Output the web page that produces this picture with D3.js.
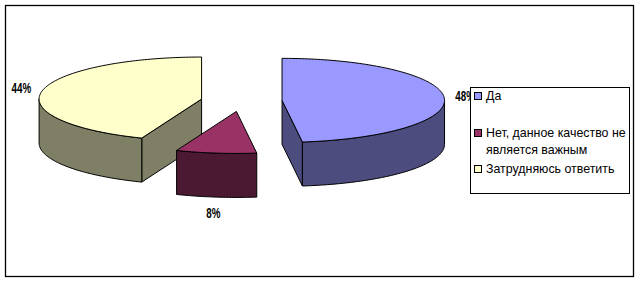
<!DOCTYPE html>
<html>
<head>
<meta charset="utf-8">
<script src="https://cdn.jsdelivr.net/npm/d3@7"></script>
<style>
  body { margin: 0; background: #fff; }
  text { font-family: Arial, "Liberation Sans", sans-serif; }
</style>
</head>
<body>
<script>
// data
var categories = ["Да", "Нет, данное качество не является важным", "Затрудняюсь ответить"];
var legendLines = [["Да"], ["Нет, данное качество не", "является важным"], ["Затрудняюсь ответить"]];
var values = [48, 8, 44];
var labels = ["48%", "8%", "44%"];
var topColors = ["#9999FF", "#993366", "#FFFFCC"];
var sideColors = ["#4C4C7F", "#4C1933", "#7F7F66"];

var svg = d3.select("body")
            .append("svg")
            .attr("width", 641)
            .attr("height", 283);

// chart border
svg.append("rect")
    .attr("x", 5.5).attr("y", 5.5)
    .attr("width", 628).attr("height", 271)
    .attr("fill", "white")
    .attr("stroke", "black")
    .attr("stroke-width", 1.3);

// pie geometry (ellipse projection of a flat cylinder)
var cx = 241.5, cy = 101, rx = 162.5, ry = 42, depth = 44, explode = 0.25;

var pie = d3.pie().sort(null).value(function(d) { return d; });
var arcs = pie(values);

var line = d3.line();

function pt(a, r, dx, dy, h) {
    return [cx + dx + rx * r * Math.sin(a), cy + dy - ry * r * Math.cos(a) + h];
}

function arcPts(a0, a1, dx, dy, h) {
    var n = Math.max(2, Math.ceil(Math.abs(a1 - a0) / 0.02));
    return d3.range(n + 1).map(function(i) { return pt(a0 + (a1 - a0) * i / n, 1, dx, dy, h); });
}

function drawFace(pts, fill) {
    svg.append("path")
        .attr("d", line(pts) + "Z")
        .attr("fill", fill)
        .attr("stroke", "black")
        .attr("stroke-width", 1)
        .attr("stroke-linejoin", "round");
}

// back slices first, front slice last
[2, 0, 1].forEach(function(i) {
    var d = arcs[i];
    var a0 = d.startAngle, a1 = d.endAngle;
    var mid = (a0 + a1) / 2;
    var dx = explode * rx * Math.sin(mid);
    var dy = -explode * ry * Math.cos(mid);
    var c0 = pt(0, 0, dx, dy, 0), c1 = pt(0, 0, dx, dy, depth);

    // radial side faces that face the viewer
    if (Math.sin(a0) < -1e-6) {
        drawFace([c0, pt(a0, 1, dx, dy, 0), pt(a0, 1, dx, dy, depth), c1], sideColors[i]);
    }
    if (Math.sin(a1) > 1e-6) {
        drawFace([c0, pt(a1, 1, dx, dy, 0), pt(a1, 1, dx, dy, depth), c1], sideColors[i]);
    }
    // front part of the curved wall
    var w0 = Math.max(a0, Math.PI / 2), w1 = Math.min(a1, 3 * Math.PI / 2);
    if (w1 > w0) {
        drawFace(arcPts(w0, w1, dx, dy, 0).concat(arcPts(w1, w0, dx, dy, depth)), sideColors[i]);
    }
    // top
    drawFace([c0].concat(arcPts(a0, a1, dx, dy, 0)), topColors[i]);
});

// data labels
var gap = 11, tw = 20, th = 10;
arcs.forEach(function(d, i) {
    var mid = (d.startAngle + d.endAngle) / 2;
    var dx = explode * rx * Math.sin(mid);
    var dy = -explode * ry * Math.cos(mid);
    var p = pt(mid, 1, dx, dy, Math.cos(mid) < 0 ? depth : 0);
    var lx = p[0] + Math.sin(mid) * (gap + tw / 2);
    var ly = p[1] - Math.cos(mid) * (gap + th / 2);
    svg.append("g")
        .attr("transform", "translate(" + lx + "," + ly + ") scale(0.7,1)")
        .append("text")
        .attr("text-anchor", "middle")
        .attr("dominant-baseline", "central")
        .attr("font-size", 14)
        .attr("font-weight", "bold")
        .attr("fill", "black")
        .text(labels[i]);
});

// legend
var legend = svg.append("g");
legend.append("rect")
    .attr("x", 470.5).attr("y", 87.5)
    .attr("width", 159).attr("height", 106)
    .attr("fill", "white")
    .attr("stroke", "black");

var itemY = [96, 133, 169];
categories.forEach(function(c, i) {
    legend.append("rect")
        .attr("x", 474.5).attr("y", itemY[i] - 3.5)
        .attr("width", 7).attr("height", 7)
        .attr("fill", topColors[i])
        .attr("stroke", "black");
    legendLines[i].forEach(function(t, j) {
        legend.append("text")
            .attr("x", 486)
            .attr("y", itemY[i] + j * 17)
            .attr("dominant-baseline", "central")
            .attr("font-size", 12.4)
            .attr("fill", "black")
            .text(t);
    });
});
</script>
</body>
</html>
